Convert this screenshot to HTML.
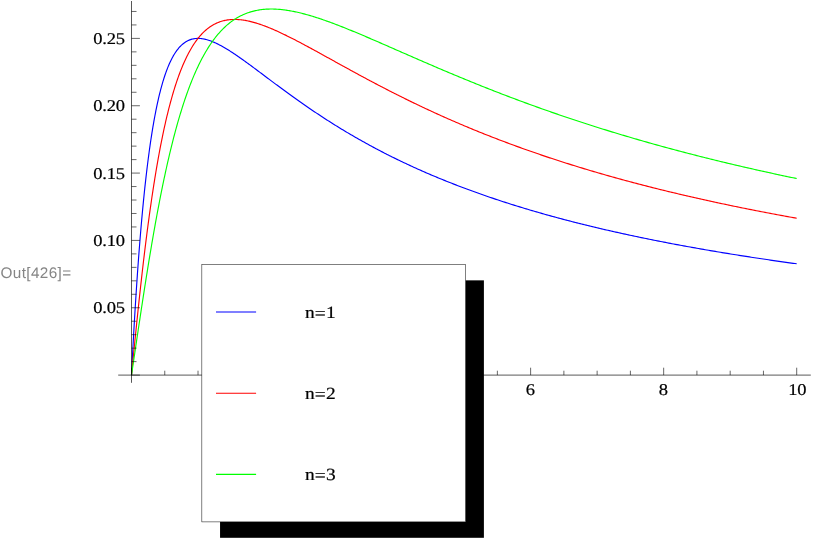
<!DOCTYPE html>
<html><head><meta charset="utf-8"><title>Out[426]</title>
<style>
html,body{margin:0;padding:0;background:#fff;}
body{width:817px;height:545px;overflow:hidden;position:relative;font-family:"Liberation Sans",sans-serif;}
svg{position:absolute;left:0;top:0;will-change:transform;}
</style></head><body>
<svg width="817" height="545" viewBox="0 0 817 545">
<path d="M131.50 375.10 L131.52 374.62 L131.57 373.64 L131.64 372.31 L131.72 370.69 L131.81 368.81 L131.92 366.71 L132.04 364.40 L132.17 361.90 L132.30 359.23 L132.45 356.40 L132.61 353.42 L132.77 350.30 L132.95 347.05 L133.13 343.69 L133.32 340.22 L133.52 336.65 L133.72 332.98 L133.93 329.24 L134.15 325.41 L134.38 321.51 L134.62 317.55 L134.86 313.53 L135.10 309.45 L135.36 305.33 L135.62 301.17 L135.88 296.98 L136.16 292.75 L136.44 288.50 L136.72 284.22 L137.01 279.93 L137.31 275.62 L137.61 271.31 L137.92 266.99 L138.23 262.67 L138.55 258.36 L138.88 254.05 L139.21 249.75 L139.55 245.46 L139.89 241.19 L140.23 236.93 L140.59 232.70 L140.94 228.49 L141.31 224.31 L141.67 220.15 L142.05 216.03 L142.42 211.94 L142.80 207.88 L143.19 203.86 L143.58 199.88 L143.98 195.94 L144.38 192.04 L144.79 188.18 L145.20 184.36 L145.62 180.60 L146.04 176.87 L146.46 173.20 L146.89 169.57 L147.33 166.00 L147.77 162.47 L148.21 159.00 L148.66 155.58 L149.11 152.21 L149.57 148.89 L150.03 145.62 L150.49 142.41 L150.96 139.26 L151.44 136.15 L151.91 133.11 L152.40 130.11 L152.88 127.18 L153.37 124.30 L153.87 121.47 L154.37 118.70 L154.87 115.98 L155.38 113.32 L155.89 110.71 L156.41 108.16 L156.93 105.66 L157.45 103.22 L157.98 100.83 L158.51 98.49 L159.04 96.21 L159.58 93.98 L160.13 91.81 L160.67 89.69 L161.22 87.61 L161.78 85.60 L162.34 83.63 L162.90 81.71 L163.47 79.84 L164.04 78.03 L164.61 76.26 L165.19 74.54 L165.77 72.87 L166.36 71.25 L166.94 69.67 L167.54 68.15 L168.13 66.66 L168.73 65.23 L169.34 63.84 L169.94 62.49 L170.55 61.19 L171.17 59.93 L171.79 58.71 L172.41 57.54 L173.03 56.40 L173.66 55.31 L174.29 54.26 L174.93 53.25 L175.57 52.28 L176.21 51.34 L176.86 50.45 L177.51 49.59 L178.16 48.77 L178.82 47.98 L179.48 47.23 L180.14 46.51 L180.81 45.83 L181.48 45.19 L182.15 44.57 L182.83 43.99 L183.51 43.45 L184.19 42.93 L184.88 42.44 L185.57 41.99 L186.27 41.56 L186.96 41.17 L187.66 40.80 L188.37 40.46 L189.07 40.15 L189.78 39.87 L190.50 39.61 L191.21 39.38 L191.93 39.17 L192.66 38.99 L193.38 38.84 L194.11 38.71 L194.85 38.60 L195.58 38.52 L196.32 38.46 L197.06 38.42 L197.81 38.40 L198.56 38.41 L199.31 38.43 L200.06 38.48 L200.82 38.54 L201.58 38.63 L202.35 38.73 L203.12 38.86 L203.89 39.00 L204.66 39.16 L205.44 39.34 L206.22 39.53 L207.00 39.75 L207.79 39.97 L208.57 40.22 L209.37 40.48 L210.16 40.75 L210.96 41.05 L211.76 41.35 L212.56 41.67 L213.37 42.00 L214.18 42.35 L214.99 42.71 L215.81 43.08 L216.63 43.47 L217.45 43.87 L218.28 44.28 L219.11 44.70 L219.94 45.14 L220.77 45.58 L221.61 46.04 L222.45 46.50 L223.29 46.98 L224.13 47.46 L224.98 47.96 L225.83 48.47 L226.69 48.98 L227.55 49.51 L228.41 50.04 L229.27 50.58 L230.13 51.13 L231.00 51.69 L231.87 52.25 L232.75 52.83 L233.62 53.41 L234.50 54.00 L235.39 54.59 L236.27 55.19 L237.16 55.80 L238.05 56.41 L238.95 57.03 L239.84 57.66 L240.74 58.29 L241.65 58.93 L242.55 59.57 L243.46 60.22 L244.37 60.88 L245.28 61.54 L246.20 62.20 L247.12 62.87 L248.04 63.54 L248.96 64.21 L249.89 64.90 L250.82 65.58 L251.75 66.27 L252.69 66.96 L253.63 67.66 L254.57 68.35 L255.51 69.06 L256.46 69.76 L257.41 70.47 L258.36 71.18 L259.31 71.89 L260.27 72.61 L261.23 73.33 L262.19 74.05 L263.16 74.77 L264.12 75.50 L265.09 76.23 L266.07 76.96 L267.04 77.69 L268.02 78.42 L269.00 79.15 L269.98 79.89 L270.97 80.63 L271.96 81.37 L272.95 82.11 L273.94 82.85 L274.94 83.59 L275.94 84.34 L276.94 85.08 L277.95 85.82 L278.95 86.57 L279.96 87.32 L280.98 88.06 L281.99 88.81 L283.01 89.56 L284.03 90.31 L285.05 91.06 L286.07 91.81 L287.10 92.56 L288.13 93.30 L289.16 94.05 L290.20 94.80 L291.24 95.55 L292.28 96.30 L293.32 97.05 L294.37 97.80 L295.41 98.55 L296.46 99.29 L297.52 100.04 L298.57 100.79 L299.63 101.54 L300.69 102.28 L301.75 103.03 L302.82 103.77 L303.89 104.52 L304.96 105.26 L306.03 106.00 L307.10 106.74 L308.18 107.48 L309.26 108.22 L310.34 108.96 L311.43 109.70 L312.52 110.44 L313.61 111.17 L314.70 111.91 L315.80 112.64 L316.89 113.37 L317.99 114.10 L319.09 114.83 L320.20 115.56 L321.31 116.29 L322.42 117.02 L323.53 117.74 L324.64 118.47 L325.76 119.19 L326.88 119.91 L328.00 120.63 L329.12 121.35 L330.25 122.06 L331.38 122.78 L332.51 123.49 L333.64 124.20 L334.78 124.91 L335.92 125.62 L337.06 126.33 L338.20 127.03 L339.35 127.74 L340.50 128.44 L341.65 129.14 L342.80 129.84 L343.95 130.54 L345.11 131.23 L346.27 131.93 L347.43 132.62 L348.60 133.31 L349.77 134.00 L350.93 134.68 L352.11 135.37 L353.28 136.05 L354.46 136.73 L355.63 137.41 L356.81 138.09 L358.00 138.76 L359.18 139.44 L360.37 140.11 L361.56 140.78 L362.75 141.45 L363.95 142.11 L365.15 142.78 L366.34 143.44 L367.55 144.10 L368.75 144.76 L369.96 145.42 L371.17 146.07 L372.38 146.72 L373.59 147.37 L374.80 148.02 L376.02 148.67 L377.24 149.31 L378.46 149.96 L379.69 150.60 L380.92 151.24 L382.14 151.87 L383.38 152.51 L384.61 153.14 L385.85 153.77 L387.08 154.40 L388.32 155.03 L389.57 155.65 L390.81 156.28 L392.06 156.90 L393.31 157.52 L394.56 158.14 L395.81 158.75 L397.07 159.36 L398.33 159.97 L399.59 160.58 L400.85 161.19 L402.12 161.80 L403.38 162.40 L404.65 163.00 L405.92 163.60 L407.20 164.20 L408.47 164.79 L409.75 165.38 L411.03 165.98 L412.31 166.56 L413.60 167.15 L414.89 167.74 L416.18 168.32 L417.47 168.90 L418.76 169.48 L420.06 170.06 L421.35 170.63 L422.65 171.21 L423.96 171.78 L425.26 172.35 L426.57 172.91 L427.88 173.48 L429.19 174.04 L430.50 174.61 L431.82 175.16 L433.13 175.72 L434.45 176.28 L435.78 176.83 L437.10 177.38 L438.43 177.93 L439.75 178.48 L441.08 179.03 L442.42 179.57 L443.75 180.11 L445.09 180.65 L446.43 181.19 L447.77 181.73 L449.11 182.26 L450.46 182.80 L451.81 183.33 L453.15 183.85 L454.51 184.38 L455.86 184.91 L457.22 185.43 L458.58 185.95 L459.94 186.47 L461.30 186.99 L462.66 187.50 L464.03 188.02 L465.40 188.53 L466.77 189.04 L468.14 189.55 L469.52 190.05 L470.89 190.56 L472.27 191.06 L473.65 191.56 L475.04 192.06 L476.42 192.56 L477.81 193.06 L479.20 193.55 L480.59 194.04 L481.99 194.53 L483.38 195.02 L484.78 195.51 L486.18 195.99 L487.58 196.48 L488.99 196.96 L490.39 197.44 L491.80 197.91 L493.21 198.39 L494.63 198.87 L496.04 199.34 L497.46 199.81 L498.88 200.28 L500.30 200.75 L501.72 201.21 L503.14 201.68 L504.57 202.14 L506.00 202.60 L507.43 203.06 L508.86 203.52 L510.30 203.97 L511.74 204.43 L513.18 204.88 L514.62 205.33 L516.06 205.78 L517.51 206.23 L518.95 206.67 L520.40 207.12 L521.86 207.56 L523.31 208.00 L524.76 208.44 L526.22 208.88 L527.68 209.31 L529.14 209.75 L530.61 210.18 L532.07 210.61 L533.54 211.04 L535.01 211.47 L536.48 211.90 L537.95 212.32 L539.43 212.75 L540.91 213.17 L542.39 213.59 L543.87 214.01 L545.35 214.43 L546.84 214.84 L548.33 215.26 L549.82 215.67 L551.31 216.08 L552.80 216.49 L554.30 216.90 L555.79 217.31 L557.29 217.71 L558.80 218.12 L560.30 218.52 L561.80 218.92 L563.31 219.32 L564.82 219.72 L566.33 220.11 L567.85 220.51 L569.36 220.90 L570.88 221.30 L572.40 221.69 L573.92 222.08 L575.44 222.47 L576.97 222.85 L578.50 223.24 L580.03 223.62 L581.56 224.00 L583.09 224.39 L584.62 224.76 L586.16 225.14 L587.70 225.52 L589.24 225.90 L590.78 226.27 L592.33 226.64 L593.88 227.02 L595.42 227.39 L596.97 227.75 L598.53 228.12 L600.08 228.49 L601.64 228.85 L603.20 229.22 L604.76 229.58 L606.32 229.94 L607.88 230.30 L609.45 230.66 L611.02 231.02 L612.59 231.37 L614.16 231.73 L615.73 232.08 L617.31 232.43 L618.89 232.78 L620.47 233.13 L622.05 233.48 L623.63 233.83 L625.22 234.17 L626.80 234.52 L628.39 234.86 L629.98 235.20 L631.58 235.55 L633.17 235.89 L634.77 236.22 L636.37 236.56 L637.97 236.90 L639.57 237.23 L641.17 237.57 L642.78 237.90 L644.39 238.23 L646.00 238.56 L647.61 238.89 L649.22 239.22 L650.84 239.54 L652.46 239.87 L654.08 240.19 L655.70 240.52 L657.32 240.84 L658.95 241.16 L660.57 241.48 L662.20 241.80 L663.83 242.12 L665.47 242.43 L667.10 242.75 L668.74 243.06 L670.37 243.38 L672.01 243.69 L673.66 244.00 L675.30 244.31 L676.95 244.62 L678.59 244.93 L680.24 245.23 L681.89 245.54 L683.55 245.84 L685.20 246.15 L686.86 246.45 L688.52 246.75 L690.18 247.05 L691.84 247.35 L693.51 247.65 L695.17 247.94 L696.84 248.24 L698.51 248.54 L700.18 248.83 L701.85 249.12 L703.53 249.41 L705.21 249.71 L706.89 250.00 L708.57 250.28 L710.25 250.57 L711.93 250.86 L713.62 251.15 L715.31 251.43 L717.00 251.72 L718.69 252.00 L720.38 252.28 L722.08 252.56 L723.78 252.84 L725.48 253.12 L727.18 253.40 L728.88 253.68 L730.58 253.95 L732.29 254.23 L734.00 254.50 L735.71 254.78 L737.42 255.05 L739.14 255.32 L740.85 255.59 L742.57 255.86 L744.29 256.13 L746.01 256.40 L747.73 256.67 L749.46 256.93 L751.18 257.20 L752.91 257.46 L754.64 257.73 L756.37 257.99 L758.11 258.25 L759.84 258.51 L761.58 258.77 L763.32 259.03 L765.06 259.29 L766.80 259.55 L768.55 259.80 L770.29 260.06 L772.04 260.31 L773.79 260.57 L775.54 260.82 L777.30 261.07 L779.05 261.32 L780.81 261.58 L782.57 261.83 L784.33 262.07 L786.09 262.32 L787.85 262.57 L789.62 262.82 L791.39 263.06 L793.16 263.31 L794.93 263.55 L796.70 263.79" stroke="#0000ff" stroke-width="1.15" fill="none" stroke-linejoin="round"/>
<path d="M131.50 375.10 L131.52 374.86 L131.57 374.37 L131.64 373.70 L131.72 372.88 L131.81 371.93 L131.92 370.85 L132.04 369.66 L132.17 368.37 L132.30 366.97 L132.45 365.48 L132.61 363.90 L132.77 362.23 L132.95 360.48 L133.13 358.64 L133.32 356.73 L133.52 354.74 L133.72 352.68 L133.93 350.55 L134.15 348.35 L134.38 346.08 L134.62 343.75 L134.86 341.36 L135.10 338.90 L135.36 336.39 L135.62 333.83 L135.88 331.21 L136.16 328.54 L136.44 325.82 L136.72 323.05 L137.01 320.23 L137.31 317.37 L137.61 314.47 L137.92 311.53 L138.23 308.55 L138.55 305.54 L138.88 302.49 L139.21 299.40 L139.55 296.29 L139.89 293.15 L140.23 289.98 L140.59 286.79 L140.94 283.57 L141.31 280.33 L141.67 277.07 L142.05 273.80 L142.42 270.51 L142.80 267.20 L143.19 263.88 L143.58 260.55 L143.98 257.21 L144.38 253.87 L144.79 250.51 L145.20 247.16 L145.62 243.80 L146.04 240.44 L146.46 237.08 L146.89 233.72 L147.33 230.36 L147.77 227.01 L148.21 223.66 L148.66 220.33 L149.11 217.00 L149.57 213.68 L150.03 210.37 L150.49 207.08 L150.96 203.80 L151.44 200.53 L151.91 197.28 L152.40 194.05 L152.88 190.83 L153.37 187.63 L153.87 184.46 L154.37 181.30 L154.87 178.17 L155.38 175.06 L155.89 171.97 L156.41 168.91 L156.93 165.87 L157.45 162.86 L157.98 159.88 L158.51 156.92 L159.04 153.99 L159.58 151.09 L160.13 148.22 L160.67 145.38 L161.22 142.57 L161.78 139.79 L162.34 137.04 L162.90 134.32 L163.47 131.64 L164.04 128.99 L164.61 126.37 L165.19 123.78 L165.77 121.22 L166.36 118.70 L166.94 116.22 L167.54 113.77 L168.13 111.35 L168.73 108.96 L169.34 106.61 L169.94 104.30 L170.55 102.02 L171.17 99.78 L171.79 97.57 L172.41 95.39 L173.03 93.25 L173.66 91.15 L174.29 89.08 L174.93 87.04 L175.57 85.04 L176.21 83.08 L176.86 81.15 L177.51 79.25 L178.16 77.39 L178.82 75.57 L179.48 73.78 L180.14 72.02 L180.81 70.30 L181.48 68.61 L182.15 66.95 L182.83 65.33 L183.51 63.75 L184.19 62.19 L184.88 60.67 L185.57 59.18 L186.27 57.73 L186.96 56.30 L187.66 54.91 L188.37 53.55 L189.07 52.22 L189.78 50.93 L190.50 49.66 L191.21 48.43 L191.93 47.23 L192.66 46.05 L193.38 44.91 L194.11 43.80 L194.85 42.71 L195.58 41.66 L196.32 40.63 L197.06 39.64 L197.81 38.67 L198.56 37.73 L199.31 36.82 L200.06 35.93 L200.82 35.07 L201.58 34.24 L202.35 33.44 L203.12 32.66 L203.89 31.90 L204.66 31.18 L205.44 30.47 L206.22 29.80 L207.00 29.14 L207.79 28.52 L208.57 27.91 L209.37 27.33 L210.16 26.77 L210.96 26.24 L211.76 25.73 L212.56 25.24 L213.37 24.77 L214.18 24.33 L214.99 23.91 L215.81 23.50 L216.63 23.12 L217.45 22.76 L218.28 22.42 L219.11 22.10 L219.94 21.80 L220.77 21.52 L221.61 21.26 L222.45 21.02 L223.29 20.79 L224.13 20.59 L224.98 20.40 L225.83 20.23 L226.69 20.07 L227.55 19.94 L228.41 19.82 L229.27 19.72 L230.13 19.63 L231.00 19.56 L231.87 19.51 L232.75 19.47 L233.62 19.45 L234.50 19.44 L235.39 19.45 L236.27 19.47 L237.16 19.51 L238.05 19.56 L238.95 19.62 L239.84 19.70 L240.74 19.79 L241.65 19.89 L242.55 20.01 L243.46 20.14 L244.37 20.28 L245.28 20.44 L246.20 20.60 L247.12 20.78 L248.04 20.97 L248.96 21.17 L249.89 21.39 L250.82 21.61 L251.75 21.84 L252.69 22.09 L253.63 22.34 L254.57 22.61 L255.51 22.88 L256.46 23.17 L257.41 23.46 L258.36 23.77 L259.31 24.08 L260.27 24.40 L261.23 24.73 L262.19 25.07 L263.16 25.42 L264.12 25.77 L265.09 26.14 L266.07 26.51 L267.04 26.89 L268.02 27.28 L269.00 27.67 L269.98 28.08 L270.97 28.49 L271.96 28.90 L272.95 29.33 L273.94 29.76 L274.94 30.19 L275.94 30.64 L276.94 31.09 L277.95 31.54 L278.95 32.00 L279.96 32.47 L280.98 32.94 L281.99 33.42 L283.01 33.91 L284.03 34.40 L285.05 34.89 L286.07 35.39 L287.10 35.90 L288.13 36.41 L289.16 36.92 L290.20 37.44 L291.24 37.97 L292.28 38.49 L293.32 39.03 L294.37 39.56 L295.41 40.10 L296.46 40.65 L297.52 41.20 L298.57 41.75 L299.63 42.30 L300.69 42.86 L301.75 43.43 L302.82 43.99 L303.89 44.56 L304.96 45.14 L306.03 45.71 L307.10 46.29 L308.18 46.87 L309.26 47.46 L310.34 48.04 L311.43 48.63 L312.52 49.23 L313.61 49.82 L314.70 50.42 L315.80 51.02 L316.89 51.62 L317.99 52.23 L319.09 52.83 L320.20 53.44 L321.31 54.05 L322.42 54.66 L323.53 55.28 L324.64 55.89 L325.76 56.51 L326.88 57.13 L328.00 57.75 L329.12 58.37 L330.25 59.00 L331.38 59.62 L332.51 60.25 L333.64 60.87 L334.78 61.50 L335.92 62.13 L337.06 62.76 L338.20 63.40 L339.35 64.03 L340.50 64.66 L341.65 65.30 L342.80 65.93 L343.95 66.57 L345.11 67.21 L346.27 67.84 L347.43 68.48 L348.60 69.12 L349.77 69.76 L350.93 70.40 L352.11 71.04 L353.28 71.68 L354.46 72.32 L355.63 72.96 L356.81 73.61 L358.00 74.25 L359.18 74.89 L360.37 75.53 L361.56 76.17 L362.75 76.82 L363.95 77.46 L365.15 78.10 L366.34 78.74 L367.55 79.39 L368.75 80.03 L369.96 80.67 L371.17 81.31 L372.38 81.95 L373.59 82.60 L374.80 83.24 L376.02 83.88 L377.24 84.52 L378.46 85.16 L379.69 85.80 L380.92 86.44 L382.14 87.08 L383.38 87.72 L384.61 88.36 L385.85 88.99 L387.08 89.63 L388.32 90.27 L389.57 90.90 L390.81 91.54 L392.06 92.18 L393.31 92.81 L394.56 93.44 L395.81 94.08 L397.07 94.71 L398.33 95.34 L399.59 95.97 L400.85 96.60 L402.12 97.23 L403.38 97.86 L404.65 98.49 L405.92 99.11 L407.20 99.74 L408.47 100.36 L409.75 100.99 L411.03 101.61 L412.31 102.24 L413.60 102.86 L414.89 103.48 L416.18 104.10 L417.47 104.72 L418.76 105.33 L420.06 105.95 L421.35 106.57 L422.65 107.18 L423.96 107.79 L425.26 108.41 L426.57 109.02 L427.88 109.63 L429.19 110.24 L430.50 110.85 L431.82 111.45 L433.13 112.06 L434.45 112.66 L435.78 113.27 L437.10 113.87 L438.43 114.47 L439.75 115.07 L441.08 115.67 L442.42 116.27 L443.75 116.86 L445.09 117.46 L446.43 118.05 L447.77 118.65 L449.11 119.24 L450.46 119.83 L451.81 120.42 L453.15 121.01 L454.51 121.59 L455.86 122.18 L457.22 122.76 L458.58 123.34 L459.94 123.93 L461.30 124.51 L462.66 125.08 L464.03 125.66 L465.40 126.24 L466.77 126.81 L468.14 127.39 L469.52 127.96 L470.89 128.53 L472.27 129.10 L473.65 129.67 L475.04 130.24 L476.42 130.80 L477.81 131.37 L479.20 131.93 L480.59 132.49 L481.99 133.05 L483.38 133.61 L484.78 134.17 L486.18 134.72 L487.58 135.28 L488.99 135.83 L490.39 136.39 L491.80 136.94 L493.21 137.49 L494.63 138.03 L496.04 138.58 L497.46 139.13 L498.88 139.67 L500.30 140.21 L501.72 140.75 L503.14 141.29 L504.57 141.83 L506.00 142.37 L507.43 142.90 L508.86 143.44 L510.30 143.97 L511.74 144.50 L513.18 145.03 L514.62 145.56 L516.06 146.09 L517.51 146.61 L518.95 147.14 L520.40 147.66 L521.86 148.18 L523.31 148.70 L524.76 149.22 L526.22 149.74 L527.68 150.26 L529.14 150.77 L530.61 151.28 L532.07 151.79 L533.54 152.31 L535.01 152.81 L536.48 153.32 L537.95 153.83 L539.43 154.33 L540.91 154.84 L542.39 155.34 L543.87 155.84 L545.35 156.34 L546.84 156.84 L548.33 157.33 L549.82 157.83 L551.31 158.32 L552.80 158.82 L554.30 159.31 L555.79 159.80 L557.29 160.28 L558.80 160.77 L560.30 161.26 L561.80 161.74 L563.31 162.22 L564.82 162.71 L566.33 163.19 L567.85 163.66 L569.36 164.14 L570.88 164.62 L572.40 165.09 L573.92 165.57 L575.44 166.04 L576.97 166.51 L578.50 166.98 L580.03 167.45 L581.56 167.91 L583.09 168.38 L584.62 168.84 L586.16 169.30 L587.70 169.77 L589.24 170.23 L590.78 170.68 L592.33 171.14 L593.88 171.60 L595.42 172.05 L596.97 172.51 L598.53 172.96 L600.08 173.41 L601.64 173.86 L603.20 174.31 L604.76 174.75 L606.32 175.20 L607.88 175.64 L609.45 176.09 L611.02 176.53 L612.59 176.97 L614.16 177.41 L615.73 177.84 L617.31 178.28 L618.89 178.72 L620.47 179.15 L622.05 179.58 L623.63 180.01 L625.22 180.44 L626.80 180.87 L628.39 181.30 L629.98 181.73 L631.58 182.15 L633.17 182.58 L634.77 183.00 L636.37 183.42 L637.97 183.84 L639.57 184.26 L641.17 184.68 L642.78 185.09 L644.39 185.51 L646.00 185.92 L647.61 186.34 L649.22 186.75 L650.84 187.16 L652.46 187.57 L654.08 187.97 L655.70 188.38 L657.32 188.79 L658.95 189.19 L660.57 189.59 L662.20 190.00 L663.83 190.40 L665.47 190.80 L667.10 191.19 L668.74 191.59 L670.37 191.99 L672.01 192.38 L673.66 192.78 L675.30 193.17 L676.95 193.56 L678.59 193.95 L680.24 194.34 L681.89 194.73 L683.55 195.11 L685.20 195.50 L686.86 195.88 L688.52 196.27 L690.18 196.65 L691.84 197.03 L693.51 197.41 L695.17 197.79 L696.84 198.17 L698.51 198.54 L700.18 198.92 L701.85 199.29 L703.53 199.67 L705.21 200.04 L706.89 200.41 L708.57 200.78 L710.25 201.15 L711.93 201.51 L713.62 201.88 L715.31 202.25 L717.00 202.61 L718.69 202.97 L720.38 203.34 L722.08 203.70 L723.78 204.06 L725.48 204.42 L727.18 204.77 L728.88 205.13 L730.58 205.49 L732.29 205.84 L734.00 206.20 L735.71 206.55 L737.42 206.90 L739.14 207.25 L740.85 207.60 L742.57 207.95 L744.29 208.30 L746.01 208.64 L747.73 208.99 L749.46 209.33 L751.18 209.68 L752.91 210.02 L754.64 210.36 L756.37 210.70 L758.11 211.04 L759.84 211.38 L761.58 211.72 L763.32 212.05 L765.06 212.39 L766.80 212.72 L768.55 213.06 L770.29 213.39 L772.04 213.72 L773.79 214.05 L775.54 214.38 L777.30 214.71 L779.05 215.04 L780.81 215.36 L782.57 215.69 L784.33 216.01 L786.09 216.34 L787.85 216.66 L789.62 216.98 L791.39 217.30 L793.16 217.62 L794.93 217.94 L796.70 218.26" stroke="#ff0000" stroke-width="1.15" fill="none" stroke-linejoin="round"/>
<path d="M131.50 375.10 L131.52 374.94 L131.57 374.61 L131.64 374.17 L131.72 373.62 L131.81 372.98 L131.92 372.27 L132.04 371.48 L132.17 370.61 L132.30 369.68 L132.45 368.69 L132.61 367.63 L132.77 366.51 L132.95 365.34 L133.13 364.11 L133.32 362.83 L133.52 361.50 L133.72 360.11 L133.93 358.68 L134.15 357.19 L134.38 355.66 L134.62 354.08 L134.86 352.46 L135.10 350.80 L135.36 349.09 L135.62 347.33 L135.88 345.54 L136.16 343.71 L136.44 341.83 L136.72 339.92 L137.01 337.96 L137.31 335.97 L137.61 333.95 L137.92 331.88 L138.23 329.78 L138.55 327.65 L138.88 325.48 L139.21 323.28 L139.55 321.05 L139.89 318.79 L140.23 316.49 L140.59 314.17 L140.94 311.81 L141.31 309.43 L141.67 307.02 L142.05 304.59 L142.42 302.13 L142.80 299.64 L143.19 297.13 L143.58 294.59 L143.98 292.04 L144.38 289.46 L144.79 286.86 L145.20 284.24 L145.62 281.60 L146.04 278.95 L146.46 276.28 L146.89 273.59 L147.33 270.88 L147.77 268.16 L148.21 265.43 L148.66 262.69 L149.11 259.93 L149.57 257.17 L150.03 254.39 L150.49 251.61 L150.96 248.81 L151.44 246.01 L151.91 243.21 L152.40 240.40 L152.88 237.58 L153.37 234.76 L153.87 231.94 L154.37 229.12 L154.87 226.30 L155.38 223.47 L155.89 220.65 L156.41 217.83 L156.93 215.01 L157.45 212.20 L157.98 209.39 L158.51 206.58 L159.04 203.78 L159.58 200.99 L160.13 198.21 L160.67 195.43 L161.22 192.66 L161.78 189.90 L162.34 187.15 L162.90 184.41 L163.47 181.69 L164.04 178.97 L164.61 176.27 L165.19 173.58 L165.77 170.91 L166.36 168.25 L166.94 165.61 L167.54 162.98 L168.13 160.37 L168.73 157.77 L169.34 155.19 L169.94 152.63 L170.55 150.09 L171.17 147.57 L171.79 145.06 L172.41 142.58 L173.03 140.11 L173.66 137.67 L174.29 135.25 L174.93 132.85 L175.57 130.46 L176.21 128.11 L176.86 125.77 L177.51 123.46 L178.16 121.16 L178.82 118.89 L179.48 116.65 L180.14 114.43 L180.81 112.23 L181.48 110.05 L182.15 107.90 L182.83 105.78 L183.51 103.67 L184.19 101.60 L184.88 99.54 L185.57 97.52 L186.27 95.51 L186.96 93.54 L187.66 91.58 L188.37 89.65 L189.07 87.75 L189.78 85.87 L190.50 84.02 L191.21 82.20 L191.93 80.40 L192.66 78.62 L193.38 76.87 L194.11 75.15 L194.85 73.45 L195.58 71.77 L196.32 70.13 L197.06 68.50 L197.81 66.90 L198.56 65.33 L199.31 63.79 L200.06 62.26 L200.82 60.77 L201.58 59.30 L202.35 57.85 L203.12 56.43 L203.89 55.03 L204.66 53.66 L205.44 52.31 L206.22 50.99 L207.00 49.69 L207.79 48.41 L208.57 47.16 L209.37 45.93 L210.16 44.73 L210.96 43.55 L211.76 42.40 L212.56 41.26 L213.37 40.15 L214.18 39.07 L214.99 38.00 L215.81 36.96 L216.63 35.94 L217.45 34.95 L218.28 33.97 L219.11 33.02 L219.94 32.09 L220.77 31.18 L221.61 30.30 L222.45 29.43 L223.29 28.59 L224.13 27.76 L224.98 26.96 L225.83 26.18 L226.69 25.42 L227.55 24.68 L228.41 23.95 L229.27 23.25 L230.13 22.57 L231.00 21.91 L231.87 21.26 L232.75 20.64 L233.62 20.03 L234.50 19.45 L235.39 18.88 L236.27 18.33 L237.16 17.80 L238.05 17.28 L238.95 16.78 L239.84 16.30 L240.74 15.84 L241.65 15.40 L242.55 14.97 L243.46 14.56 L244.37 14.16 L245.28 13.78 L246.20 13.42 L247.12 13.07 L248.04 12.74 L248.96 12.43 L249.89 12.13 L250.82 11.84 L251.75 11.57 L252.69 11.32 L253.63 11.08 L254.57 10.85 L255.51 10.64 L256.46 10.44 L257.41 10.26 L258.36 10.09 L259.31 9.93 L260.27 9.78 L261.23 9.65 L262.19 9.54 L263.16 9.43 L264.12 9.34 L265.09 9.26 L266.07 9.19 L267.04 9.14 L268.02 9.09 L269.00 9.06 L269.98 9.04 L270.97 9.03 L271.96 9.03 L272.95 9.05 L273.94 9.07 L274.94 9.11 L275.94 9.15 L276.94 9.21 L277.95 9.27 L278.95 9.35 L279.96 9.44 L280.98 9.53 L281.99 9.64 L283.01 9.76 L284.03 9.88 L285.05 10.01 L286.07 10.16 L287.10 10.31 L288.13 10.47 L289.16 10.64 L290.20 10.82 L291.24 11.01 L292.28 11.20 L293.32 11.41 L294.37 11.62 L295.41 11.84 L296.46 12.06 L297.52 12.30 L298.57 12.54 L299.63 12.79 L300.69 13.05 L301.75 13.31 L302.82 13.58 L303.89 13.86 L304.96 14.15 L306.03 14.44 L307.10 14.74 L308.18 15.04 L309.26 15.35 L310.34 15.67 L311.43 15.99 L312.52 16.32 L313.61 16.65 L314.70 17.00 L315.80 17.34 L316.89 17.69 L317.99 18.05 L319.09 18.41 L320.20 18.78 L321.31 19.16 L322.42 19.54 L323.53 19.92 L324.64 20.31 L325.76 20.70 L326.88 21.10 L328.00 21.50 L329.12 21.91 L330.25 22.32 L331.38 22.74 L332.51 23.16 L333.64 23.58 L334.78 24.01 L335.92 24.44 L337.06 24.88 L338.20 25.32 L339.35 25.76 L340.50 26.21 L341.65 26.66 L342.80 27.12 L343.95 27.57 L345.11 28.04 L346.27 28.50 L347.43 28.97 L348.60 29.44 L349.77 29.92 L350.93 30.39 L352.11 30.87 L353.28 31.36 L354.46 31.84 L355.63 32.33 L356.81 32.83 L358.00 33.32 L359.18 33.82 L360.37 34.32 L361.56 34.82 L362.75 35.32 L363.95 35.83 L365.15 36.34 L366.34 36.85 L367.55 37.36 L368.75 37.88 L369.96 38.40 L371.17 38.92 L372.38 39.44 L373.59 39.96 L374.80 40.49 L376.02 41.02 L377.24 41.54 L378.46 42.08 L379.69 42.61 L380.92 43.14 L382.14 43.68 L383.38 44.21 L384.61 44.75 L385.85 45.29 L387.08 45.83 L388.32 46.38 L389.57 46.92 L390.81 47.46 L392.06 48.01 L393.31 48.56 L394.56 49.11 L395.81 49.66 L397.07 50.21 L398.33 50.76 L399.59 51.31 L400.85 51.86 L402.12 52.42 L403.38 52.97 L404.65 53.53 L405.92 54.09 L407.20 54.64 L408.47 55.20 L409.75 55.76 L411.03 56.32 L412.31 56.88 L413.60 57.44 L414.89 58.00 L416.18 58.57 L417.47 59.13 L418.76 59.69 L420.06 60.25 L421.35 60.82 L422.65 61.38 L423.96 61.94 L425.26 62.51 L426.57 63.07 L427.88 63.64 L429.19 64.20 L430.50 64.77 L431.82 65.34 L433.13 65.90 L434.45 66.47 L435.78 67.03 L437.10 67.60 L438.43 68.16 L439.75 68.73 L441.08 69.30 L442.42 69.86 L443.75 70.43 L445.09 70.99 L446.43 71.56 L447.77 72.13 L449.11 72.69 L450.46 73.26 L451.81 73.82 L453.15 74.39 L454.51 74.95 L455.86 75.52 L457.22 76.08 L458.58 76.65 L459.94 77.21 L461.30 77.77 L462.66 78.34 L464.03 78.90 L465.40 79.46 L466.77 80.02 L468.14 80.59 L469.52 81.15 L470.89 81.71 L472.27 82.27 L473.65 82.83 L475.04 83.39 L476.42 83.95 L477.81 84.51 L479.20 85.06 L480.59 85.62 L481.99 86.18 L483.38 86.74 L484.78 87.29 L486.18 87.85 L487.58 88.40 L488.99 88.96 L490.39 89.51 L491.80 90.06 L493.21 90.62 L494.63 91.17 L496.04 91.72 L497.46 92.27 L498.88 92.82 L500.30 93.37 L501.72 93.92 L503.14 94.46 L504.57 95.01 L506.00 95.56 L507.43 96.10 L508.86 96.65 L510.30 97.19 L511.74 97.74 L513.18 98.28 L514.62 98.82 L516.06 99.36 L517.51 99.90 L518.95 100.44 L520.40 100.98 L521.86 101.52 L523.31 102.05 L524.76 102.59 L526.22 103.12 L527.68 103.66 L529.14 104.19 L530.61 104.73 L532.07 105.26 L533.54 105.79 L535.01 106.32 L536.48 106.85 L537.95 107.38 L539.43 107.90 L540.91 108.43 L542.39 108.96 L543.87 109.48 L545.35 110.00 L546.84 110.53 L548.33 111.05 L549.82 111.57 L551.31 112.09 L552.80 112.61 L554.30 113.13 L555.79 113.64 L557.29 114.16 L558.80 114.68 L560.30 115.19 L561.80 115.70 L563.31 116.22 L564.82 116.73 L566.33 117.24 L567.85 117.75 L569.36 118.26 L570.88 118.76 L572.40 119.27 L573.92 119.77 L575.44 120.28 L576.97 120.78 L578.50 121.29 L580.03 121.79 L581.56 122.29 L583.09 122.79 L584.62 123.28 L586.16 123.78 L587.70 124.28 L589.24 124.77 L590.78 125.27 L592.33 125.76 L593.88 126.25 L595.42 126.75 L596.97 127.24 L598.53 127.73 L600.08 128.21 L601.64 128.70 L603.20 129.19 L604.76 129.67 L606.32 130.16 L607.88 130.64 L609.45 131.12 L611.02 131.60 L612.59 132.08 L614.16 132.56 L615.73 133.04 L617.31 133.51 L618.89 133.99 L620.47 134.47 L622.05 134.94 L623.63 135.41 L625.22 135.88 L626.80 136.35 L628.39 136.82 L629.98 137.29 L631.58 137.76 L633.17 138.22 L634.77 138.69 L636.37 139.15 L637.97 139.62 L639.57 140.08 L641.17 140.54 L642.78 141.00 L644.39 141.46 L646.00 141.92 L647.61 142.37 L649.22 142.83 L650.84 143.28 L652.46 143.74 L654.08 144.19 L655.70 144.64 L657.32 145.09 L658.95 145.54 L660.57 145.99 L662.20 146.44 L663.83 146.88 L665.47 147.33 L667.10 147.77 L668.74 148.22 L670.37 148.66 L672.01 149.10 L673.66 149.54 L675.30 149.98 L676.95 150.42 L678.59 150.85 L680.24 151.29 L681.89 151.72 L683.55 152.16 L685.20 152.59 L686.86 153.02 L688.52 153.45 L690.18 153.88 L691.84 154.31 L693.51 154.74 L695.17 155.16 L696.84 155.59 L698.51 156.01 L700.18 156.44 L701.85 156.86 L703.53 157.28 L705.21 157.70 L706.89 158.12 L708.57 158.54 L710.25 158.96 L711.93 159.37 L713.62 159.79 L715.31 160.20 L717.00 160.61 L718.69 161.03 L720.38 161.44 L722.08 161.85 L723.78 162.26 L725.48 162.66 L727.18 163.07 L728.88 163.48 L730.58 163.88 L732.29 164.29 L734.00 164.69 L735.71 165.09 L737.42 165.49 L739.14 165.89 L740.85 166.29 L742.57 166.69 L744.29 167.09 L746.01 167.48 L747.73 167.88 L749.46 168.27 L751.18 168.67 L752.91 169.06 L754.64 169.45 L756.37 169.84 L758.11 170.23 L759.84 170.62 L761.58 171.01 L763.32 171.39 L765.06 171.78 L766.80 172.16 L768.55 172.55 L770.29 172.93 L772.04 173.31 L773.79 173.69 L775.54 174.07 L777.30 174.45 L779.05 174.83 L780.81 175.20 L782.57 175.58 L784.33 175.95 L786.09 176.33 L787.85 176.70 L789.62 177.07 L791.39 177.44 L793.16 177.81 L794.93 178.18 L796.70 178.55" stroke="#00ff00" stroke-width="1.15" fill="none" stroke-linejoin="round"/>
<g stroke="#000" stroke-width="0.66" fill="none">
<line x1="118.2" y1="375.10" x2="810.8" y2="375.10"/>
<line x1="131.50" y1="1" x2="131.50" y2="382.8"/>
</g>
<g stroke="#000" stroke-width="0.6" fill="none">
<line x1="131.50" y1="375.10" x2="131.50" y2="367.70"/>
<line x1="164.76" y1="375.10" x2="164.76" y2="370.70"/>
<line x1="198.02" y1="375.10" x2="198.02" y2="370.70"/>
<line x1="231.28" y1="375.10" x2="231.28" y2="370.70"/>
<line x1="264.54" y1="375.10" x2="264.54" y2="367.70"/>
<line x1="297.80" y1="375.10" x2="297.80" y2="370.70"/>
<line x1="331.06" y1="375.10" x2="331.06" y2="370.70"/>
<line x1="364.32" y1="375.10" x2="364.32" y2="370.70"/>
<line x1="397.58" y1="375.10" x2="397.58" y2="367.70"/>
<line x1="430.84" y1="375.10" x2="430.84" y2="370.70"/>
<line x1="464.10" y1="375.10" x2="464.10" y2="370.70"/>
<line x1="497.36" y1="375.10" x2="497.36" y2="370.70"/>
<line x1="530.62" y1="375.10" x2="530.62" y2="367.70"/>
<line x1="563.88" y1="375.10" x2="563.88" y2="370.70"/>
<line x1="597.14" y1="375.10" x2="597.14" y2="370.70"/>
<line x1="630.40" y1="375.10" x2="630.40" y2="370.70"/>
<line x1="663.66" y1="375.10" x2="663.66" y2="367.70"/>
<line x1="696.92" y1="375.10" x2="696.92" y2="370.70"/>
<line x1="730.18" y1="375.10" x2="730.18" y2="370.70"/>
<line x1="763.44" y1="375.10" x2="763.44" y2="370.70"/>
<line x1="796.70" y1="375.10" x2="796.70" y2="367.70"/>
<line x1="131.50" y1="375.10" x2="139.90" y2="375.10"/>
<line x1="131.50" y1="361.63" x2="136.50" y2="361.63"/>
<line x1="131.50" y1="348.16" x2="136.50" y2="348.16"/>
<line x1="131.50" y1="334.70" x2="136.50" y2="334.70"/>
<line x1="131.50" y1="321.23" x2="136.50" y2="321.23"/>
<line x1="131.50" y1="307.76" x2="139.90" y2="307.76"/>
<line x1="131.50" y1="294.29" x2="136.50" y2="294.29"/>
<line x1="131.50" y1="280.82" x2="136.50" y2="280.82"/>
<line x1="131.50" y1="267.36" x2="136.50" y2="267.36"/>
<line x1="131.50" y1="253.89" x2="136.50" y2="253.89"/>
<line x1="131.50" y1="240.42" x2="139.90" y2="240.42"/>
<line x1="131.50" y1="226.95" x2="136.50" y2="226.95"/>
<line x1="131.50" y1="213.48" x2="136.50" y2="213.48"/>
<line x1="131.50" y1="200.02" x2="136.50" y2="200.02"/>
<line x1="131.50" y1="186.55" x2="136.50" y2="186.55"/>
<line x1="131.50" y1="173.08" x2="139.90" y2="173.08"/>
<line x1="131.50" y1="159.61" x2="136.50" y2="159.61"/>
<line x1="131.50" y1="146.14" x2="136.50" y2="146.14"/>
<line x1="131.50" y1="132.68" x2="136.50" y2="132.68"/>
<line x1="131.50" y1="119.21" x2="136.50" y2="119.21"/>
<line x1="131.50" y1="105.74" x2="139.90" y2="105.74"/>
<line x1="131.50" y1="92.27" x2="136.50" y2="92.27"/>
<line x1="131.50" y1="78.80" x2="136.50" y2="78.80"/>
<line x1="131.50" y1="65.34" x2="136.50" y2="65.34"/>
<line x1="131.50" y1="51.87" x2="136.50" y2="51.87"/>
<line x1="131.50" y1="38.40" x2="139.90" y2="38.40"/>
<line x1="131.50" y1="24.93" x2="136.50" y2="24.93"/>
<line x1="131.50" y1="11.46" x2="136.50" y2="11.46"/>
</g>
<text transform="translate(124.90,313.26) scale(1.13,1)" text-anchor="end" text-rendering="geometricPrecision" font-family="Liberation Serif, serif" font-size="16.4" letter-spacing="-0.15" fill="#000" stroke="#000" stroke-width="0.2">0.05</text>
<text transform="translate(124.90,245.92) scale(1.13,1)" text-anchor="end" text-rendering="geometricPrecision" font-family="Liberation Serif, serif" font-size="16.4" letter-spacing="-0.15" fill="#000" stroke="#000" stroke-width="0.2">0.10</text>
<text transform="translate(124.90,178.58) scale(1.13,1)" text-anchor="end" text-rendering="geometricPrecision" font-family="Liberation Serif, serif" font-size="16.4" letter-spacing="-0.15" fill="#000" stroke="#000" stroke-width="0.2">0.15</text>
<text transform="translate(124.90,111.24) scale(1.13,1)" text-anchor="end" text-rendering="geometricPrecision" font-family="Liberation Serif, serif" font-size="16.4" letter-spacing="-0.15" fill="#000" stroke="#000" stroke-width="0.2">0.20</text>
<text transform="translate(124.90,43.90) scale(1.13,1)" text-anchor="end" text-rendering="geometricPrecision" font-family="Liberation Serif, serif" font-size="16.4" letter-spacing="-0.15" fill="#000" stroke="#000" stroke-width="0.2">0.25</text>
<text transform="translate(264.24,394.80) scale(1.13,1)" text-anchor="middle" text-rendering="geometricPrecision" font-family="Liberation Serif, serif" font-size="16.4" letter-spacing="-0.15" fill="#000" stroke="#000" stroke-width="0.2">2</text>
<text transform="translate(397.28,394.80) scale(1.13,1)" text-anchor="middle" text-rendering="geometricPrecision" font-family="Liberation Serif, serif" font-size="16.4" letter-spacing="-0.15" fill="#000" stroke="#000" stroke-width="0.2">4</text>
<text transform="translate(530.32,394.80) scale(1.13,1)" text-anchor="middle" text-rendering="geometricPrecision" font-family="Liberation Serif, serif" font-size="16.4" letter-spacing="-0.15" fill="#000" stroke="#000" stroke-width="0.2">6</text>
<text transform="translate(663.36,394.80) scale(1.13,1)" text-anchor="middle" text-rendering="geometricPrecision" font-family="Liberation Serif, serif" font-size="16.4" letter-spacing="-0.15" fill="#000" stroke="#000" stroke-width="0.2">8</text>
<text transform="translate(797.30,394.80) scale(1.13,1)" text-anchor="middle" text-rendering="geometricPrecision" font-family="Liberation Serif, serif" font-size="16.4" letter-spacing="-0.15" fill="#000" stroke="#000" stroke-width="0.2">10</text>
<rect x="220.05" y="280.35" width="263.85" height="257.45" fill="#000"/>
<rect x="201.85" y="264.5" width="263.85" height="257.4" fill="#fff" stroke="#000" stroke-width="0.5"/>
<line x1="216" y1="312.00" x2="256.1" y2="312.00" stroke="#0000ff" stroke-width="1.15"/>
<text transform="translate(305.00,317.90) scale(1.13,1)" text-anchor="start" text-rendering="geometricPrecision" font-family="Liberation Serif, serif" font-size="17.2" letter-spacing="0.25" fill="#000" stroke="#000" stroke-width="0.2">n<tspan dy="0.9" dx="-0.3">=</tspan><tspan dy="-0.9">1</tspan></text>
<line x1="216" y1="393.20" x2="256.1" y2="393.20" stroke="#ff0000" stroke-width="1.15"/>
<text transform="translate(305.00,399.10) scale(1.13,1)" text-anchor="start" text-rendering="geometricPrecision" font-family="Liberation Serif, serif" font-size="17.2" letter-spacing="0.25" fill="#000" stroke="#000" stroke-width="0.2">n<tspan dy="0.9" dx="-0.3">=</tspan><tspan dy="-0.9">2</tspan></text>
<line x1="216" y1="474.40" x2="256.1" y2="474.40" stroke="#00ff00" stroke-width="1.15"/>
<text transform="translate(305.00,480.30) scale(1.13,1)" text-anchor="start" text-rendering="geometricPrecision" font-family="Liberation Serif, serif" font-size="17.2" letter-spacing="0.25" fill="#000" stroke="#000" stroke-width="0.2">n<tspan dy="0.9" dx="-0.3">=</tspan><tspan dy="-0.9">3</tspan></text>
<text x="0.5" y="278.0" text-rendering="geometricPrecision" font-family="Liberation Sans, sans-serif" font-size="15.3" letter-spacing="0.38" fill="#858585">Out[426]=</text>
</svg>
</body></html>
